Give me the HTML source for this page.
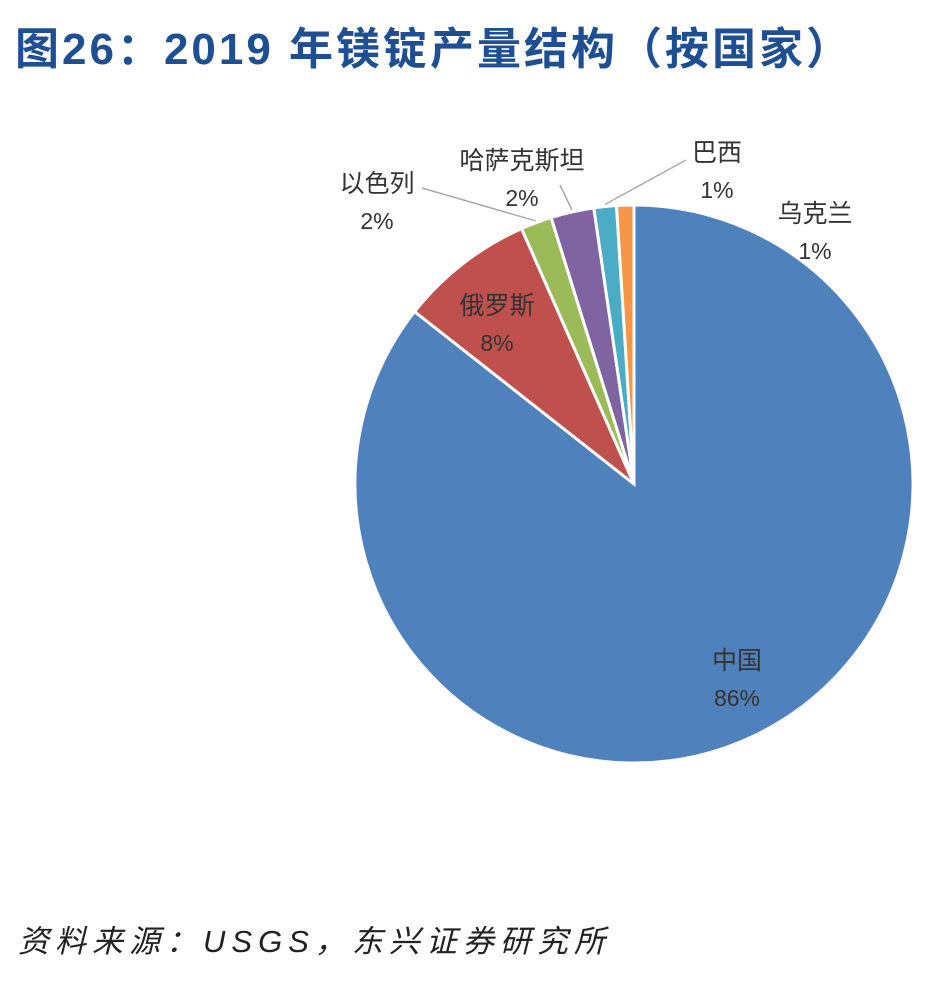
<!DOCTYPE html>
<html><head><meta charset="utf-8"><style>
body{margin:0;background:#fff;width:944px;height:1000px;overflow:hidden;position:relative;font-family:"Liberation Sans","Noto Sans CJK SC",sans-serif}
#title{position:absolute;left:15px;top:13px;font-size:44px;letter-spacing:3px;font-weight:bold;color:#1f4f93;white-space:nowrap}
#src{position:absolute;left:18px;top:916px;font-size:31px;letter-spacing:6px;font-style:italic;color:#222;white-space:nowrap}
svg{position:absolute;left:0;top:0}
</style></head><body>
<div id="title">图26：2019 年镁锭产量结构（按国家）</div>
<svg id="chart" width="944" height="1000"></svg>
<div id="src">资料来源：USGS，东兴证券研究所</div>
<script>
const categories=["中国","俄罗斯","以色列","哈萨克斯坦","巴西","乌克兰"];
const values=[85.6,7.8,1.8,2.5,1.3,1.0];
const labels=["86%","8%","2%","2%","1%","1%"];
const colors=["#4f81bd","#c0504d","#9bbb59","#8064a2","#4bacc6","#f79646"];
const NS="http://www.w3.org/2000/svg";
const svg=document.getElementById('chart');
const cx=634,cy=484,r=279;
const total=values.reduce((a,b)=>a+b,0);
function pt(a,rr){return [cx+rr*Math.sin(a),cy-rr*Math.cos(a)];}
let acc=0;
const mids=[];
values.forEach((v,i)=>{
  const a0=acc/total*2*Math.PI; acc+=v; const a1=acc/total*2*Math.PI;
  mids.push((a0+a1)/2);
  const p0=pt(a0,r),p1=pt(a1,r);
  const large=(a1-a0)>Math.PI?1:0;
  const path=document.createElementNS(NS,'path');
  path.setAttribute('d',`M${cx},${cy}L${p0[0]},${p0[1]}A${r},${r} 0 ${large} 1 ${p1[0]},${p1[1]}Z`);
  path.setAttribute('fill',colors[i]);path.setAttribute('stroke','#fff');path.setAttribute('stroke-width','3');
  
  
  svg.appendChild(path);
});
const lpos=[[737,660],[497,305],[377,183],[522,160],[717,152],[815,213]];
const leaders=[null,null,[422,188],[560,185],[686,160],null];
categories.forEach((c,i)=>{
  const t=document.createElementNS(NS,'text');
  t.setAttribute('x',lpos[i][0]);t.setAttribute('y',lpos[i][1]+9);
  t.setAttribute('text-anchor','middle');t.setAttribute('font-size','25');t.setAttribute('fill','#333');
  t.setAttribute('font-family','"Liberation Sans","Noto Sans CJK SC",sans-serif');
  t.textContent=c;
  
  
  svg.appendChild(t);
  const t2=document.createElementNS(NS,'text');
  t2.setAttribute('x',lpos[i][0]);t2.setAttribute('y',lpos[i][1]+46);
  t2.setAttribute('text-anchor','middle');t2.setAttribute('font-size','23');t2.setAttribute('fill','#333');
  t2.setAttribute('font-family','"Liberation Sans",sans-serif');
  t2.textContent=labels[i];
  
  
  svg.appendChild(t2);
  if(leaders[i]){
    const e=pt(mids[i],r+2);
    const l=document.createElementNS(NS,'line');
    l.setAttribute('x1',leaders[i][0]);l.setAttribute('y1',leaders[i][1]);
    l.setAttribute('x2',e[0]);l.setAttribute('y2',e[1]);
    l.setAttribute('stroke','#aaa');l.setAttribute('stroke-width','1.5');
    
    
    svg.appendChild(l);
  }
});
</script>
</body></html>
